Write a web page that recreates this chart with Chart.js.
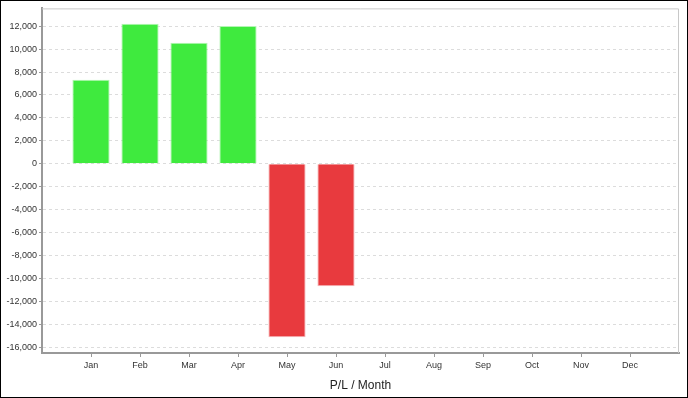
<!DOCTYPE html>
<html lang="en">
<head>
    <meta charset="UTF-8">
    <title>P/L / Month</title>
    <style>
        html, body { margin: 0; padding: 0; background: #fff; }
        .frame { width: 686px; height: 396px; border: 1px solid #000; position: relative; }
        canvas { display: block; }
    </style>
</head>
<body>
<div class="frame"><canvas id="pl-chart" width="686" height="396"></canvas></div>
<script src="https://cdn.jsdelivr.net/npm/chart.js"></script>
<script>
const months = ['Jan', 'Feb', 'Mar', 'Apr', 'May', 'Jun', 'Jul', 'Aug', 'Sep', 'Oct', 'Nov', 'Dec'];
const profitLoss = [7330, 12220, 10550, 12020, -15130, -10670];
const yTicks = [12000, 10000, 8000, 6000, 4000, 2000, 0, -2000, -4000, -6000, -8000, -10000, -12000, -14000, -16000];

const green = '#3fea3e', greenEdge = '#b4f5b4';
const red = '#e83a3e', redEdge = '#f5b8ba';

// frame round the plot: light top/right, darker left/bottom
const plotFrame = {
    id: 'plotFrame',
    afterDraw(chart) {
        const a = chart.chartArea, c = chart.ctx;
        c.save();
        c.lineWidth = 1;
        c.strokeStyle = '#c8c8c8';
        c.beginPath();
        c.moveTo(a.left, a.top + 0.5); c.lineTo(a.right - 0.5, a.top + 0.5); c.lineTo(a.right - 0.5, a.bottom);
        c.stroke();
        c.restore();
    }
};

new Chart(document.getElementById('pl-chart').getContext('2d'), {
    type: 'bar',
    data: {
        datasets: [{
            data: profitLoss.map((v, i) => ({ x: i, y: v })),
            backgroundColor: profitLoss.map(v => v >= 0 ? green : red),
            borderColor: profitLoss.map(v => v >= 0 ? greenEdge : redEdge),
            borderWidth: 1,
            barPercentage: 0.76,
            categoryPercentage: 1
        }]
    },
    options: {
        animation: false,
        responsive: false,
        layout: { padding: { top: 6, right: 8, left: 0, bottom: 0 } },
        plugins: { legend: { display: false }, tooltip: { enabled: false } },
        scales: {
            x: {
                type: 'linear',
                min: -1,
                max: 12,
                offset: false,
                afterBuildTicks: s => { s.ticks = months.map((m, i) => ({ value: i })); },
                afterFit: s => { s.height = 44; },
                ticks: {
                    autoSkip: false,
                    maxRotation: 0,
                    padding: 3,
                    color: '#333',
                    font: { family: 'Liberation Sans', size: 9 },
                    callback: v => months[v] || ''
                },
                grid: { offset: false, drawOnChartArea: false, tickLength: 4, tickColor: '#999' },
                border: { color: '#999', width: 2 },
                title: {
                    display: true,
                    text: 'P/L / Month',
                    color: '#222',
                    font: { family: 'Liberation Sans', size: 12 },
                    padding: { top: 6, bottom: 4 }
                }
            },
            y: {
                min: -16500,
                max: 13550,
                afterBuildTicks: s => { s.ticks = yTicks.map(v => ({ value: v })); },
                afterFit: s => { s.width = 41; },
                ticks: {
                    padding: 2,
                    color: '#333',
                    font: { family: 'Liberation Sans', size: 9 },
                    callback: v => v.toLocaleString('en-US')
                },
                grid: {
                    color: '#dcdcdc',
                    tickColor: '#999',
                    tickLength: 3,
                    tickBorderDash: []
                },
                border: { color: '#999', width: 2, dash: [3, 3] }
            }
        }
    },
    plugins: [plotFrame]
});
</script>
</body>
</html>
